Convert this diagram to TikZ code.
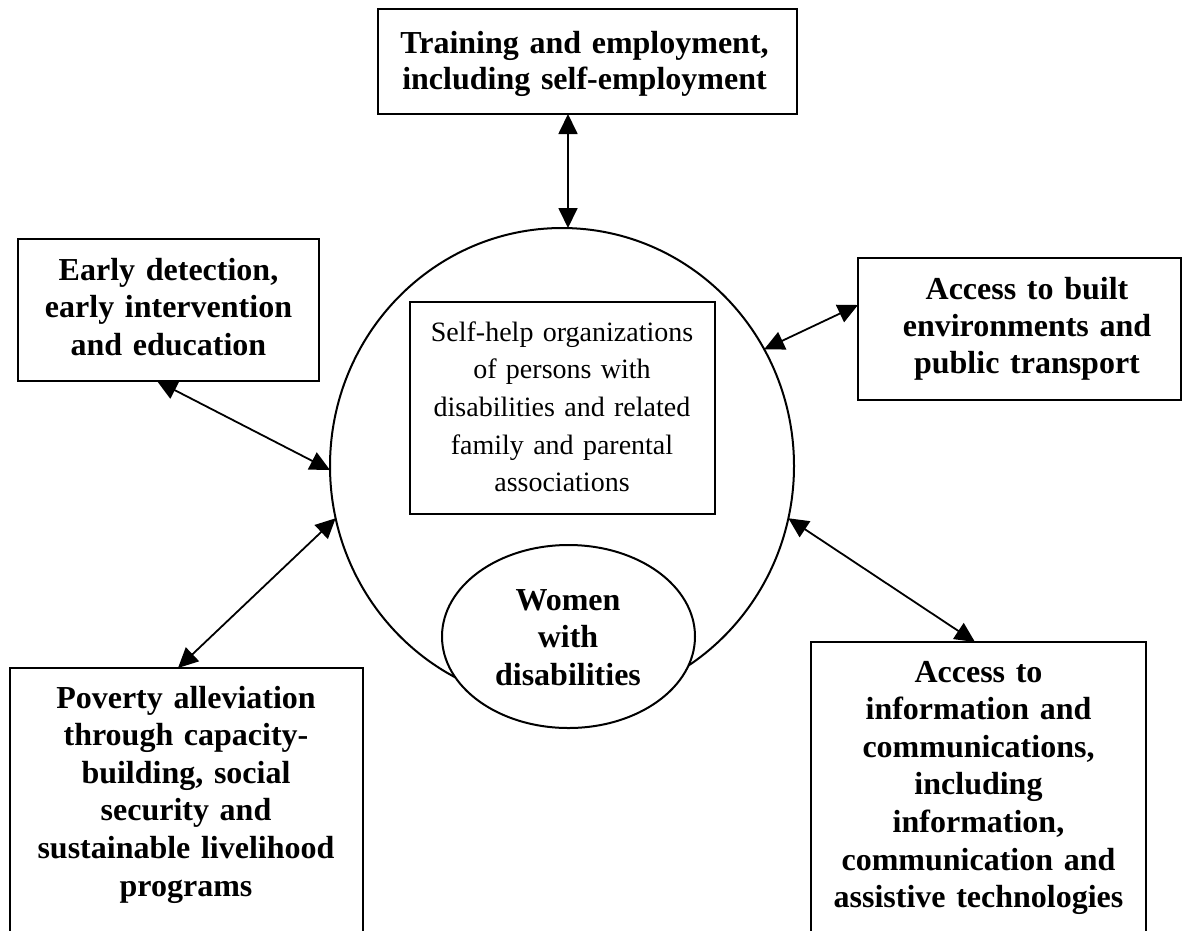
\documentclass[tikz,border=0pt]{standalone}
\usepackage{fontspec}
\setmainfont{Liberation Serif}
\usetikzlibrary{arrows.meta,shapes.geometric}
\begin{document}
\begin{tikzpicture}[x=1pt,y=-1pt,
  box/.style={draw,line width=2pt,rectangle,inner sep=0pt,outer sep=0pt,fill=white},
  oval/.style={draw,line width=2pt,ellipse,inner sep=0pt,outer sep=0pt},
  btext/.style={anchor=base,inner sep=0pt,align=center,font={\fontsize{32}{37.6}\selectfont\bfseries}},
  rtext/.style={anchor=base,inner sep=0pt,align=center,font={\fontsize{28}{37.7}\selectfont}},
  link/.style={line width=1.8pt,{Triangle[length=20pt,width=19pt]}-{Triangle[length=20pt,width=19pt]}},
]
\useasboundingbox (0,0) rectangle (1189,930);
% central circle
\node[oval,minimum width=464pt,minimum height=476pt] (circ) at (562,466) {};
% boxes
\node[box,minimum width=419pt,minimum height=105pt] (top) at (587.5,61.5) {};
\node[box,minimum width=301pt,minimum height=142pt] (left) at (168.5,310) {};
\node[box,minimum width=323pt,minimum height=142pt] (right) at (1019.5,329) {};
\node[box,minimum width=353pt,minimum height=272pt] (pov) at (186.5,804) {};
\node[box,minimum width=335pt,minimum height=298pt] (info) at (978.5,791) {};
\node[box,minimum width=305pt,minimum height=212pt] (selfhelp) at (562.5,408) {};
\node[oval,fill=white,minimum width=253pt,minimum height=183pt] (women) at (568.5,636.5) {};
% texts
\node[btext,text width=419pt,font={\fontsize{32}{36}\selectfont\bfseries}] (toptext) at (584.5,53.5)
  {Training and employment,\\including self-employment};
\node[btext,text width=301pt] (lefttext) at (168.5,280)
  {Early detection,\\early intervention\\and education};
\node[btext,text width=323pt,font={\fontsize{32}{37}\selectfont\bfseries}] (righttext) at (1027,299)
  {Access to built\\environments and\\public transport};
\node[btext,text width=353pt] (povtext) at (186,708)
  {Poverty alleviation\\through capacity-\\building, social\\security and\\sustainable livelihood\\programs};
\node[btext,text width=335pt] (infotext) at (978.5,682)
  {Access to\\information and\\communications,\\including\\information,\\communication and\\assistive technologies};
\node[rtext,text width=305pt] (selftext) at (562,341)
  {Self-help organizations\\of persons with\\disabilities and related\\family and parental\\associations};
\node[btext,text width=253pt,font={\fontsize{32}{37.5}\selectfont\bfseries}] (womentext) at (568,610)
  {Women\\with\\disabilities};
% connectors
\draw[link] ([xshift=-19.5pt]top.south) -- ([xshift=6pt]circ.north);
\draw[link] ([xshift=-11.5pt]left.south) -- (circ.181);
\draw[link] ([yshift=24pt]right.west) -- (circ.30);
\draw[link] (circ.-13) -- ([xshift=-3.5pt]info.north);
\draw[link] (circ.193) -- ([xshift=-8.5pt]pov.north);
\end{tikzpicture}
\end{document}
